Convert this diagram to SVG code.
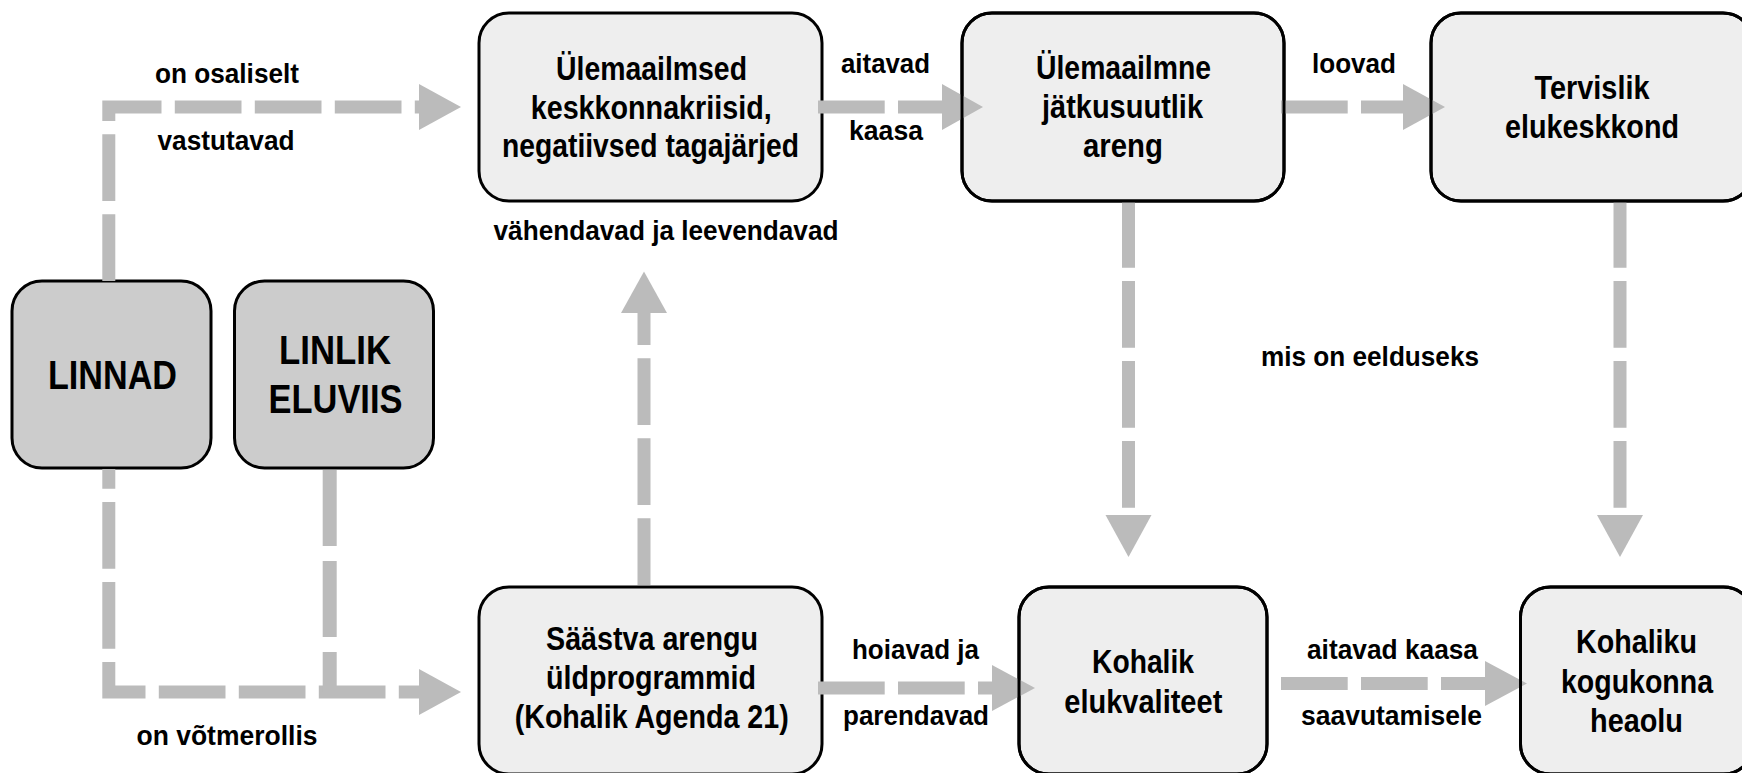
<svg xmlns="http://www.w3.org/2000/svg" width="1742" height="773" viewBox="0 0 1742 773">
<style>
  .box { fill: #EEEEEE; stroke: #000; stroke-width: 3; }
  .dark { fill: #CCCCCC; }
  .outline { fill: none; stroke: #000; stroke-width: 3; }
  .t { font-family: "Liberation Sans", Arial, sans-serif; font-weight: bold; fill: #000; text-anchor: middle; }
  .n { font-size: 33px; }
  .big { font-size: 41px; }
  .lbl { font-size: 27px; }
  .ln { fill: none; stroke: #BBBBBB; stroke-width: 13; stroke-dasharray: 66.7 13.3; stroke-linejoin: miter; }
  .ln2 { fill: none; stroke: #BBBBBB; stroke-width: 14; stroke-dasharray: 76 15; }
  .ah { fill: #BBBBBB; }
</style>
<rect width="1742" height="773" fill="#FFFFFF"/>

<g id="node-linnad">
  <rect class="box dark" x="12" y="281" width="199" height="187" rx="30"/>
  <text class="t big" x="112.5" y="389" textLength="129" lengthAdjust="spacingAndGlyphs">LINNAD</text>
</g>
<g id="node-linlik-eluviis">
  <rect class="box dark" x="234.5" y="281" width="199" height="187" rx="30"/>
  <text class="t big" x="335" y="364.3" textLength="112" lengthAdjust="spacingAndGlyphs">LINLIK</text>
  <text class="t big" x="335.5" y="413.3" textLength="134" lengthAdjust="spacingAndGlyphs">ELUVIIS</text>
</g>
<g id="node-kriisid">
  <rect class="box" x="479" y="13" width="343" height="188" rx="30"/>
  <text class="t n" x="651.5" y="80" textLength="191" lengthAdjust="spacingAndGlyphs">Ülemaailmsed</text>
  <text class="t n" x="651.2" y="118.5" textLength="241" lengthAdjust="spacingAndGlyphs">keskkonnakriisid,</text>
  <text class="t n" x="650.5" y="157" textLength="297" lengthAdjust="spacingAndGlyphs">negatiivsed tagajärjed</text>
</g>
<g id="node-areng">
  <rect class="box" x="962" y="13" width="322" height="188" rx="30"/>
  <text class="t n" x="1123.5" y="78.5" textLength="175" lengthAdjust="spacingAndGlyphs">Ülemaailmne</text>
  <text class="t n" x="1122.5" y="118" textLength="161" lengthAdjust="spacingAndGlyphs">jätkusuutlik</text>
  <text class="t n" x="1123" y="157" textLength="80" lengthAdjust="spacingAndGlyphs">areng</text>
</g>
<g id="node-tervislik">
  <rect class="box" x="1431" y="13" width="322" height="188" rx="30"/>
  <text class="t n" x="1592" y="99.3" textLength="115" lengthAdjust="spacingAndGlyphs">Tervislik</text>
  <text class="t n" x="1592" y="138" textLength="174" lengthAdjust="spacingAndGlyphs">elukeskkond</text>
</g>
<g id="node-agenda">
  <rect class="box" x="479" y="587" width="343" height="187" rx="30"/>
  <text class="t n" x="652" y="650" textLength="212" lengthAdjust="spacingAndGlyphs">Säästva arengu</text>
  <text class="t n" x="651" y="689" textLength="210" lengthAdjust="spacingAndGlyphs">üldprogrammid</text>
  <text class="t n" x="651.7" y="728" textLength="274" lengthAdjust="spacingAndGlyphs">(Kohalik Agenda 21)</text>
</g>
<g id="node-elukvaliteet">
  <rect class="box" x="1019" y="587" width="248" height="187" rx="30"/>
  <text class="t n" x="1143" y="673.3" textLength="102" lengthAdjust="spacingAndGlyphs">Kohalik</text>
  <text class="t n" x="1143.3" y="713.3" textLength="158" lengthAdjust="spacingAndGlyphs">elukvaliteet</text>
</g>
<g id="node-heaolu">
  <rect class="box" x="1520.5" y="587" width="233" height="187" rx="30"/>
  <text class="t n" x="1636.5" y="653.3" textLength="121" lengthAdjust="spacingAndGlyphs">Kohaliku</text>
  <text class="t n" x="1637" y="693" textLength="152" lengthAdjust="spacingAndGlyphs">kogukonna</text>
  <text class="t n" x="1636.5" y="731.7" textLength="93" lengthAdjust="spacingAndGlyphs">heaolu</text>
</g>

<g id="connectors">
  <path class="ln" d="M108.8 281 V107 H419"/>
  <polygon class="ah" points="419,84 461,107 419,130"/>
  <path class="ln" d="M108.8 469 V692 H419" stroke-dashoffset="47"/>
  <polygon class="ah" points="419,669 461,692 419,715"/>
  <path class="ln2" d="M329.7 470 V692"/>
  <path class="ln" d="M644 585 V313"/>
  <polygon class="ah" points="621,313 644,271.5 667,313"/>
  <path class="ln" d="M818 107 H942"/>
  <polygon class="ah" points="942,84 983,107 942,130"/>
  <path class="ln" d="M1281 107 H1403"/>
  <polygon class="ah" points="1403,84 1445,107 1403,130"/>
  <path class="ln" d="M1128.5 201 V515"/>
  <polygon class="ah" points="1105.5,515 1128.5,557 1151.5,515"/>
  <path class="ln" d="M1620 201 V515"/>
  <polygon class="ah" points="1597,515 1620,557 1643,515"/>
  <path class="ln" d="M818 688 H992"/>
  <polygon class="ah" points="992,665 1035,688 992,711"/>
  <path class="ln" d="M1281 683.5 H1485"/>
  <polygon class="ah" points="1485,661 1527,683.5 1485,706"/>
  <g id="connector-labels">
    <text class="t lbl" x="227" y="83.3" textLength="144" lengthAdjust="spacingAndGlyphs">on osaliselt</text>
    <text class="t lbl" x="226" y="150" textLength="137" lengthAdjust="spacingAndGlyphs">vastutavad</text>
    <text class="t lbl" x="885.5" y="72.7" textLength="89" lengthAdjust="spacingAndGlyphs">aitavad</text>
    <text class="t lbl" x="886" y="140" textLength="74" lengthAdjust="spacingAndGlyphs">kaasa</text>
    <text class="t lbl" x="1354" y="73.3" textLength="84" lengthAdjust="spacingAndGlyphs">loovad</text>
    <text class="t lbl" x="666" y="240" textLength="345" lengthAdjust="spacingAndGlyphs">vähendavad ja leevendavad</text>
    <text class="t lbl" x="1370" y="365.7" textLength="218" lengthAdjust="spacingAndGlyphs">mis on eelduseks</text>
    <text class="t lbl" x="227" y="745" textLength="181" lengthAdjust="spacingAndGlyphs">on võtmerollis</text>
    <text class="t lbl" x="915.5" y="659" textLength="127" lengthAdjust="spacingAndGlyphs">hoiavad ja</text>
    <text class="t lbl" x="916" y="725" textLength="146" lengthAdjust="spacingAndGlyphs">parendavad</text>
    <text class="t lbl" x="1392.5" y="659.3" textLength="171" lengthAdjust="spacingAndGlyphs">aitavad kaasa</text>
    <text class="t lbl" x="1391.5" y="725" textLength="181" lengthAdjust="spacingAndGlyphs">saavutamisele</text>
  </g>
</g>

<g id="node-outlines">
  <rect class="outline" x="962" y="13" width="322" height="188" rx="30"/>
  <rect class="outline" x="1431" y="13" width="322" height="188" rx="30"/>
  <rect class="outline" x="1019" y="587" width="248" height="187" rx="30"/>
  <rect class="outline" x="1520.5" y="587" width="233" height="187" rx="30"/>
</g>
</svg>
